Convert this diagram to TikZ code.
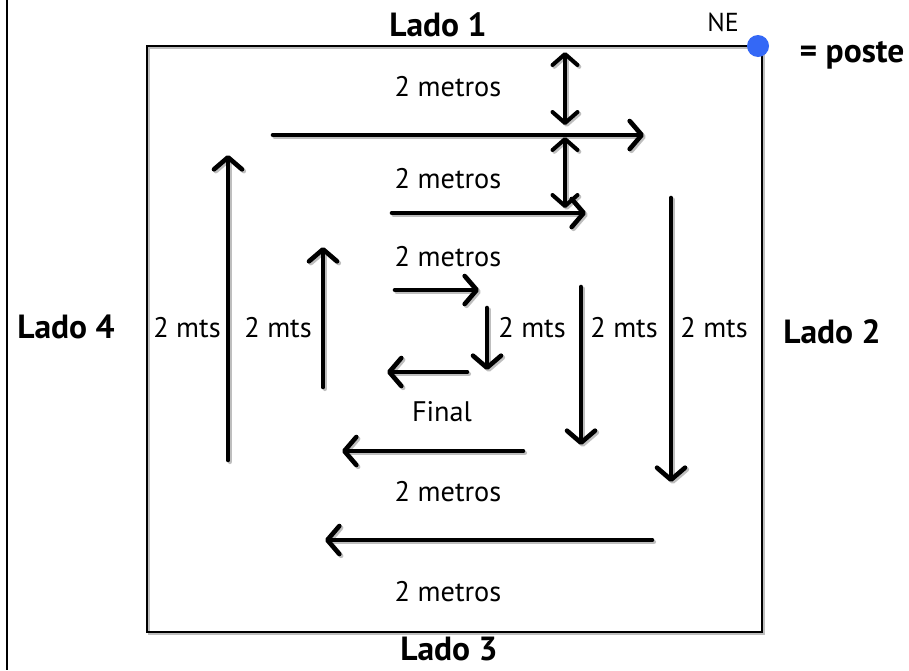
\documentclass[tikz,border=0pt]{standalone}
\usepackage{fontspec}
\setmainfont{PT Sans}
\usetikzlibrary{arrows.meta}
\definecolor{postecol}{RGB}{52,104,246}
\definecolor{shadowcol}{RGB}{190,190,190}
\tikzset{
  lbl/.style={font=\fontsize{28.3}{32}\selectfont, inner sep=0pt, anchor=center},
  blbl/.style={font=\fontsize{33.5}{38}\selectfont\bfseries, inner sep=0pt, anchor=center},
  bigarrow/.style={line width=4.6pt, line cap=round, -{Straight Barb[length=12pt,width=28pt,line cap=round,line join=round]}},
  dblarrow/.style={line width=4pt, line cap=round, {Straight Barb[length=11pt,width=25pt,line cap=round,line join=round]}-{Straight Barb[length=11pt,width=25pt,line cap=round,line join=round]}},
}
\newcommand{\allarrows}{%
  \draw[bigarrow] (a1s) -- (a1e);
  \draw[dblarrow] (d1s) -- (d1e);
  \draw[dblarrow] (d2s) -- (d2e);
  \draw[bigarrow] (a4s) -- (a4e);
  \draw[bigarrow] (a5s) -- (a5e);
  \draw[bigarrow] (a6s) -- (a6e);
  \draw[bigarrow] (a7s) -- (a7e);
  \draw[bigarrow] (a8s) -- (a8e);
  \draw[bigarrow] (a9s) -- (a9e);
  \draw[bigarrow] (a10s) -- (a10e);
  \draw[bigarrow] (a11s) -- (a11e);
  \draw[bigarrow] (a12s) -- (a12e);
  \draw[bigarrow] (a13s) -- (a13e);
}
\begin{document}
\begin{tikzpicture}[x=1pt,y=-1pt]
\useasboundingbox (0,0) rectangle (909,670);
\fill[white] (0,0) rectangle (909,670);
% outer frame edge
\draw[line width=1.5pt] (7,0) -- (7,670);
% field box with shadow
\draw[shadowcol, line width=1.5pt] (149,48) rectangle (764,634);
\draw[line width=1.5pt] (147,46) rectangle (762,632);
% arrow end points
\coordinate (a1s) at (273,135);  \coordinate (a1e) at (644,135);
\coordinate (d1s) at (565,52);   \coordinate (d1e) at (565,125);
\coordinate (d2s) at (565,137);  \coordinate (d2e) at (565,208);
\coordinate (a4s) at (392,213);  \coordinate (a4e) at (586,213);
\coordinate (a5s) at (395,290);  \coordinate (a5e) at (479,290);
\coordinate (a6s) at (487,308);  \coordinate (a6e) at (487,370);
\coordinate (a7s) at (467,372);  \coordinate (a7e) at (387,372);
\coordinate (a8s) at (323,387);  \coordinate (a8e) at (323,247);
\coordinate (a9s) at (228,460);  \coordinate (a9e) at (228,155);
\coordinate (a10s) at (581,287); \coordinate (a10e) at (581,445);
\coordinate (a11s) at (671,198); \coordinate (a11e) at (671,482);
\coordinate (a12s) at (523,451); \coordinate (a12e) at (342,451);
\coordinate (a13s) at (652,540); \coordinate (a13e) at (325,540);
% shadows
\begin{scope}[transform canvas={shift={(1.8pt,-1.8pt)}}, draw=shadowcol, color=shadowcol]
\allarrows
\end{scope}
% arrows
\allarrows
% poste
\fill[postecol] (758,46) circle (11);
% labels
\node[blbl] (l1) at (438,25) {Lado 1};
\node[blbl] (l2) at (832,332) {Lado 2};
\node[blbl] (l3) at (449,649) {Lado 3};
\node[blbl] (l4) at (66,327) {Lado 4};
\node[lbl, font=\fontsize{26}{30}\selectfont] (ne) at (723,22) {NE};
\node[blbl] (poste) at (852,55) {= poste};
\node[lbl] (m1) at (448,87) {2 metros};
\node[lbl] (m2) at (448,179) {2 metros};
\node[lbl] (m3) at (448,257) {2 metros};
\node[lbl] (m4) at (448,492) {2 metros};
\node[lbl] (m5) at (448,592) {2 metros};
\node[lbl] (t1) at (187,328) {2 mts};
\node[lbl] (t2) at (278,328) {2 mts};
\node[lbl] (t3) at (532,328) {2 mts};
\node[lbl] (t4) at (624,328) {2 mts};
\node[lbl] (t5) at (714,328) {2 mts};
\node[lbl] (fin) at (442,412) {Final};
\end{tikzpicture}
\end{document}
